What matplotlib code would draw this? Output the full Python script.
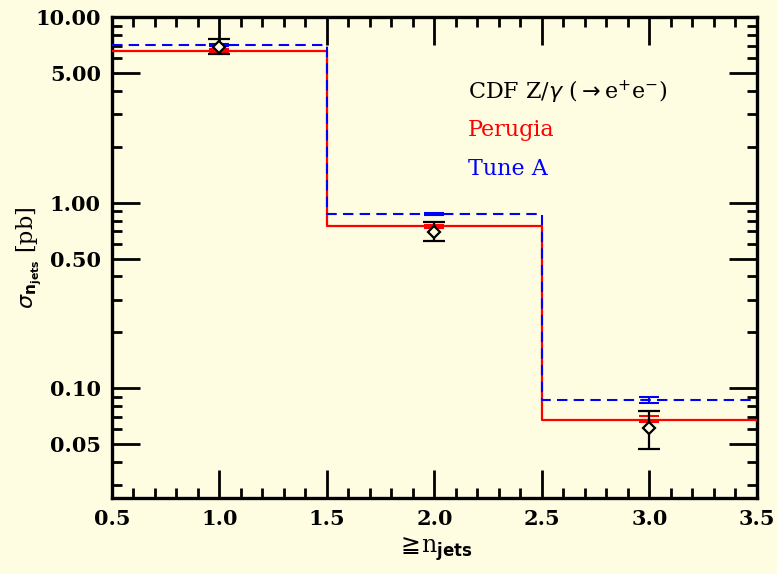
import numpy as np
import matplotlib.pyplot as plt
from matplotlib.ticker import FixedLocator, FixedFormatter, MultipleLocator, LogLocator, NullFormatter

BG = "#fffde1"

# bin edges and values
bin_edges = [0.5, 1.5, 2.5, 3.5]
njets = [1.0, 2.0, 3.0]

cdf_val = [6.95, 0.695, 0.061]
cdf_lo = [6.3, 0.62, 0.047]
cdf_hi = [7.6, 0.785, 0.0755]

perugia_val = [6.6, 0.746, 0.0675]
perugia_lo = [6.4, 0.73, 0.0654]
perugia_hi = [6.75, 0.76, 0.0710]

tunea_val = [7.1, 0.869, 0.0862]
tunea_lo = [7.0, 0.86, 0.083]
tunea_hi = [7.2, 0.88, 0.0895]

ytick_vals = [0.05, 0.10, 0.50, 1.00, 5.00, 10.00]
ytick_labels = ["0.05", "0.10", "0.50", "1.00", "5.00", "10.00"]

plt.rcParams["font.family"] = ["DejaVu Serif", "DejaVu Sans"]

fig = plt.figure(figsize=(7.77, 5.74), dpi=100, facecolor=BG)
ax = fig.add_axes([0.144, 0.132, 0.830, 0.838], facecolor=BG)


def step(vals):
    return list(vals) + [vals[-1]]


ax.step(bin_edges, step(perugia_val), where="post", color="red", lw=1.6, zorder=3)
ax.step(bin_edges, step(tunea_val), where="post", color="blue", lw=1.5,
        ls=(0, (5, 3)), zorder=4)


def errs(val, lo, hi):
    v = np.array(val)
    return [v - np.array(lo), np.array(hi) - v]


ax.errorbar(njets, perugia_val, yerr=errs(perugia_val, perugia_lo, perugia_hi),
            fmt="none", ecolor="red", elinewidth=1.5, capsize=7, capthick=1.5, zorder=5)
ax.errorbar(njets, tunea_val, yerr=errs(tunea_val, tunea_lo, tunea_hi),
            fmt="none", ecolor="blue", elinewidth=1.5, capsize=7, capthick=1.5, zorder=5)
ax.errorbar(njets, cdf_val, yerr=errs(cdf_val, cdf_lo, cdf_hi),
            fmt="D", ms=6, mfc=BG, mec="black", mew=1.6, ecolor="black",
            elinewidth=1.6, capsize=8, capthick=1.6, zorder=6)

ax.set_yscale("log")
ax.set_xlim(0.5, 3.5)
ax.set_ylim(0.0255, 10.0)

ax.xaxis.set_major_locator(MultipleLocator(0.5))
ax.xaxis.set_minor_locator(MultipleLocator(0.1))
ax.xaxis.set_major_formatter(plt.FuncFormatter(lambda v, p: f"{v:.1f}"))
ax.yaxis.set_major_locator(FixedLocator(ytick_vals))
ax.yaxis.set_major_formatter(FixedFormatter(ytick_labels))
ax.yaxis.set_minor_locator(LogLocator(base=10, subs=np.arange(2, 10)))
ax.yaxis.set_minor_formatter(NullFormatter())

ax.tick_params(which="both", direction="in", top=True, right=True, width=2,
               labelsize=15, pad=8)
ax.tick_params(which="major", length=20)
ax.tick_params(which="minor", length=7)
for lab in ax.get_xticklabels() + ax.get_yticklabels():
    lab.set_fontweight("bold")
for sp in ax.spines.values():
    sp.set_linewidth(2.4)

ax.set_xlabel(r"$\geqq\!$n$_{\mathbf{jets}}$", fontsize=17, labelpad=4)
ax.set_ylabel(r"$\sigma_{\mathbf{n_{jets}}}$ [pb]", fontsize=16, labelpad=2)
ax.yaxis.set_label_coords(-0.105, 0.5)

ax.text(0.552, 0.845, r"CDF Z/$\gamma$ ($\rightarrow$e$^{+}$e$^{-}$)", transform=ax.transAxes,
        fontsize=16, color="black", ha="left", va="center")
ax.text(0.552, 0.765, "Perugia", transform=ax.transAxes, fontsize=16, color="red",
        ha="left", va="center")
ax.text(0.552, 0.685, "Tune A", transform=ax.transAxes, fontsize=16, color="blue",
        ha="left", va="center")

fig.savefig("out.png", dpi=100, facecolor=BG)
